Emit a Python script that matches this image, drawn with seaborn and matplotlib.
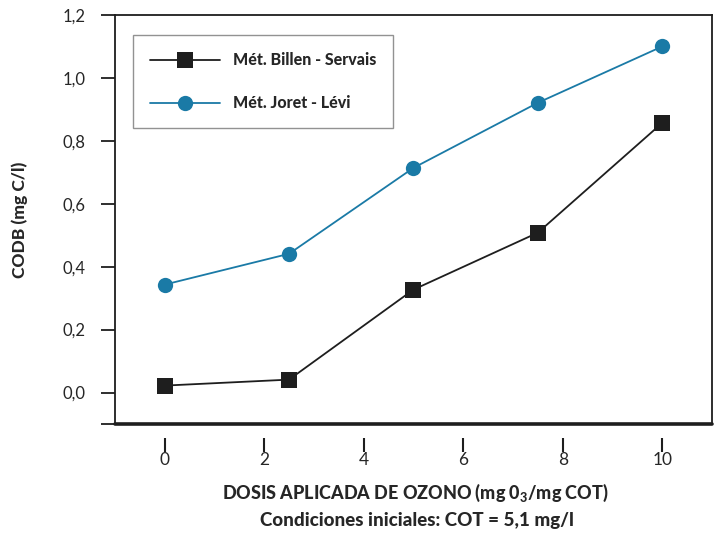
import pandas as pd
import matplotlib.pyplot as plt
import seaborn as sns

dosis = [0, 2.5, 5, 7.5, 10]
billen = [0.022, 0.041, 0.327, 0.508, 0.857]
joret = [0.343, 0.441, 0.714, 0.921, 1.10]
series = ['Mét. Billen - Servais', 'Mét. Joret - Lévi']
ytick_vals = [0.0, 0.2, 0.4, 0.6, 0.8, 1.0, 1.2]
ytick_labels = ['0,0', '0,2', '0,4', '0,6', '0,8', '1,0', '1,2']
xtick_vals = [0, 2, 4, 6, 8, 10]

df = pd.DataFrame({
    'dosis': dosis * 2,
    'codb': billen + joret,
    'metodo': [series[0]] * 5 + [series[1]] * 5,
})

sns.set_style('white')
plt.rcParams['font.family'] = ['Lato', 'DejaVu Sans']
plt.rcParams['mathtext.fontset'] = 'custom'
plt.rcParams['mathtext.bf'] = 'Lato:black'
plt.rcParams['mathtext.rm'] = 'Lato'

fig = plt.figure(figsize=(7.18, 5.36), dpi=100)
ax = fig.add_axes([0.160, 0.209, 0.8316, 0.763])

colors = {series[0]: '#1e1e1e', series[1]: '#1a7aa6'}
markers = {series[0]: 's', series[1]: 'o'}
sns.lineplot(data=df, x='dosis', y='codb', hue='metodo', style='metodo',
             palette=colors, markers=markers, dashes=False, markersize=11,
             linewidth=1.3, markeredgewidth=0, ax=ax)

ax.set_xlim(-1, 11)
ax.set_ylim(-0.1, 1.2)
ax.set_xticks(xtick_vals)
ax.set_xticklabels([str(v) for v in xtick_vals])
ax.set_yticks([-0.1] + ytick_vals)
ax.set_yticklabels([''] + ytick_labels)
ax.get_yticklines()[-2].set_visible(False)

for s in ax.spines.values():
    s.set_color('#1e1e1e')
    s.set_linewidth(1.3)

# x ticks sit below the box, detached from it
ax.spines['bottom'].set_position(('outward', 10))
ax.spines['bottom'].set_visible(False)
ax.axhline(-0.1, color='#1e1e1e', lw=2.6, clip_on=False)
ax.tick_params(axis='x', direction='out', length=10, width=1.5, color='#1e1e1e',
               pad=0, labelsize=12.5)
ax.tick_params(axis='y', direction='out', length=10, width=1.3, color='#1e1e1e',
               pad=11, labelsize=12)
ax.tick_params(left=True, bottom=True)

ax.set_xlabel('')
ax.set_ylabel('CODB (mg C/l)', fontsize=12.5, fontweight='black', labelpad=25)

leg = ax.legend(title=None, loc='upper left', bbox_to_anchor=(0.03, 0.95),
                fontsize=11.5, handlelength=4.4, borderpad=1.05, labelspacing=1.7,
                frameon=True, fancybox=False, borderaxespad=0)
leg.get_frame().set_edgecolor('#777777')
leg.get_frame().set_linewidth(1.0)
for t in leg.get_texts():
    t.set_fontweight('black')

fig.text(0.579, 0.080, r'DOSIS APLICADA DE OZONO (mg 0$\mathbf{_3}$/mg COT)',
         ha='center', va='center', fontsize=13, fontweight='black')
fig.text(0.580, 0.028, 'Condiciones iniciales: COT = 5,1 mg/l',
         ha='center', va='center', fontsize=13.5, fontweight='black')

plt.savefig('out.png', dpi=100)
